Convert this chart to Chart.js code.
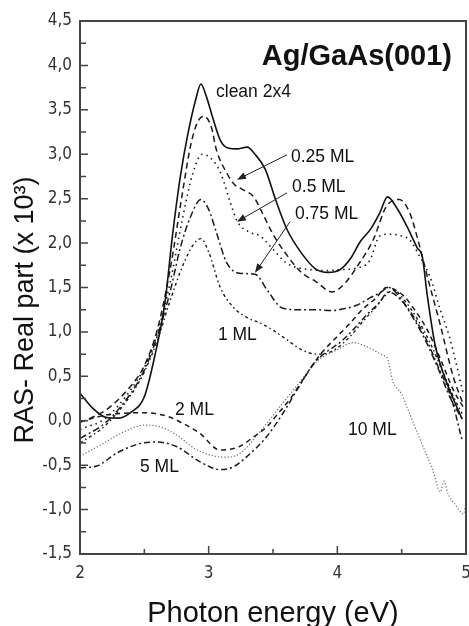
<!DOCTYPE html>
<html>
<head>
<meta charset="utf-8">
<script src="https://cdn.jsdelivr.net/npm/chart.js@4"></script>
<style>
  html, body { margin: 0; padding: 0; background: #fff; }
  #wrap { width: 469px; height: 626px; position: relative; }
</style>
</head>
<body>
<div id="wrap"><canvas id="rasChart"></canvas></div>
<script>
// Photon energy (eV) / RAS real part (x 10^3)

// clean 2x4
const eClean = [2.00, 2.10, 2.20, 2.30, 2.40, 2.50, 2.58, 2.66, 2.72, 2.78, 2.84, 2.90, 2.94, 2.98, 3.03, 3.09, 3.15, 3.22, 3.30, 3.36, 3.44, 3.52, 3.61, 3.72, 3.83, 3.93, 4.02, 4.10, 4.18, 4.26, 4.33, 4.39, 4.46, 4.54, 4.62, 4.66, 4.70, 4.76, 4.82, 4.90, 4.97];
const rClean = [0.31, 0.14, 0.04, 0.03, 0.10, 0.27, 0.72, 1.33, 2.10, 2.75, 3.24, 3.62, 3.79, 3.66, 3.42, 3.16, 3.07, 3.06, 3.08, 3.00, 2.83, 2.49, 2.15, 1.89, 1.71, 1.67, 1.70, 1.82, 2.02, 2.16, 2.34, 2.52, 2.40, 2.19, 1.95, 1.85, 1.40, 0.85, 0.55, 0.25, 0.02];

// 0.25 ML
const e025 = [2.00, 2.20, 2.40, 2.50, 2.60, 2.70, 2.80, 2.86, 2.91, 2.96, 3.02, 3.06, 3.14, 3.20, 3.27, 3.35, 3.42, 3.50, 3.60, 3.72, 3.83, 3.96, 4.06, 4.16, 4.28, 4.38, 4.48, 4.56, 4.62, 4.70, 4.80, 4.90, 4.98];
const r025 = [-0.02, 0.12, 0.40, 0.62, 1.02, 1.70, 2.60, 3.10, 3.35, 3.43, 3.31, 3.05, 2.79, 2.66, 2.60, 2.52, 2.33, 2.10, 1.88, 1.67, 1.57, 1.45, 1.55, 1.75, 2.04, 2.41, 2.49, 2.35, 2.07, 1.62, 1.08, 0.50, 0.18];

// 0.5 ML
const e05 = [2.00, 2.20, 2.40, 2.50, 2.60, 2.70, 2.80, 2.88, 2.95, 3.02, 3.09, 3.17, 3.22, 3.32, 3.40, 3.50, 3.60, 3.70, 3.80, 3.90, 4.02, 4.15, 4.25, 4.33, 4.40, 4.50, 4.56, 4.64, 4.72, 4.80, 4.87, 4.98];
const r05 = [-0.10, 0.03, 0.36, 0.60, 0.98, 1.55, 2.30, 2.80, 3.00, 2.95, 2.80, 2.45, 2.25, 2.12, 2.08, 1.93, 1.78, 1.72, 1.70, 1.69, 1.70, 1.72, 1.80, 2.08, 2.10, 2.08, 2.04, 1.85, 1.62, 1.25, 0.95, 0.30];

// 0.75 ML
const e075 = [2.00, 2.20, 2.40, 2.50, 2.60, 2.70, 2.78, 2.86, 2.94, 3.00, 3.06, 3.14, 3.24, 3.36, 3.46, 3.57, 3.70, 3.83, 3.95, 4.05, 4.15, 4.25, 4.33, 4.40, 4.48, 4.58, 4.68, 4.78, 4.88, 4.97];
const r075 = [-0.20, -0.02, 0.32, 0.57, 0.95, 1.45, 1.95, 2.30, 2.49, 2.38, 2.12, 1.78, 1.66, 1.65, 1.46, 1.27, 1.25, 1.25, 1.24, 1.26, 1.30, 1.38, 1.44, 1.50, 1.40, 1.18, 0.92, 0.60, 0.25, 0.02];

// 1 ML
const e1 = [2.00, 2.20, 2.40, 2.50, 2.60, 2.70, 2.80, 2.88, 2.94, 3.00, 3.09, 3.19, 3.30, 3.40, 3.50, 3.61, 3.72, 3.84, 3.92, 4.00, 4.10, 4.20, 4.30, 4.38, 4.44, 4.52, 4.62, 4.72, 4.82, 4.90, 4.97];
const r1 = [-0.25, -0.05, 0.30, 0.55, 0.90, 1.35, 1.75, 1.98, 2.05, 1.90, 1.50, 1.28, 1.16, 1.10, 1.02, 0.91, 0.80, 0.75, 0.76, 0.82, 0.95, 1.12, 1.28, 1.42, 1.47, 1.36, 1.15, 0.88, 0.55, 0.28, 0.08];

// 2 ML
const e2 = [2.00, 2.23, 2.49, 2.68, 2.80, 2.93, 3.09, 3.24, 3.35, 3.45, 3.55, 3.63, 3.75, 3.87, 4.00, 4.10, 4.20, 4.30, 4.38, 4.44, 4.52, 4.60, 4.70, 4.80, 4.90, 4.98];
const r2 = [-0.01, 0.07, 0.09, 0.05, -0.03, -0.14, -0.33, -0.29, -0.18, -0.07, 0.10, 0.24, 0.50, 0.75, 0.95, 1.10, 1.26, 1.38, 1.50, 1.48, 1.40, 1.25, 1.02, 0.70, 0.35, 0.15];

// 5 ML
const e5 = [2.00, 2.13, 2.29, 2.49, 2.60, 2.75, 2.93, 3.09, 3.19, 3.30, 3.45, 3.58, 3.70, 3.82, 3.92, 4.02, 4.12, 4.22, 4.32, 4.40, 4.48, 4.58, 4.68, 4.78, 4.88, 4.97];
const r5 = [-0.53, -0.51, -0.36, -0.25, -0.24, -0.29, -0.46, -0.55, -0.52, -0.40, -0.18, 0.09, 0.38, 0.65, 0.78, 0.88, 1.02, 1.18, 1.32, 1.45, 1.38, 1.20, 0.95, 0.62, 0.28, -0.22];

// 10 ML
const e10 = [2.00, 2.15, 2.35, 2.50, 2.60, 2.75, 2.90, 3.05, 3.15, 3.25, 3.40, 3.55, 3.70, 3.85, 4.00, 4.12, 4.25, 4.35, 4.39, 4.43, 4.50, 4.54, 4.64, 4.74, 4.80, 4.83, 4.86, 4.92, 4.98, 5.00];
const r10 = [-0.40, -0.28, -0.12, -0.05, -0.06, -0.16, -0.32, -0.40, -0.41, -0.36, -0.12, 0.15, 0.42, 0.68, 0.80, 0.88, 0.82, 0.74, 0.70, 0.45, 0.30, 0.16, -0.20, -0.55, -0.80, -0.68, -0.82, -0.95, -1.05, -0.92];

// axis ranges
const xMin = 2, xMax = 5, xStep = 1;
const yMin = -1.5, yMax = 4.5, yStep = 0.5;

// text labels in the plot (energy, value) and arrows
const notes = [
  { text: "clean 2x4", e: 3.057, v: 3.70 },
  { text: "0.25 ML", e: 3.640, v: 2.97 },
  { text: "0.5 ML", e: 3.648, v: 2.63 },
  { text: "0.75 ML", e: 3.671, v: 2.32 },
  { text: "1 ML", e: 3.072, v: 0.965 },
  { text: "2 ML", e: 2.738, v: 0.121 },
  { text: "5 ML", e: 2.466, v: -0.52 },
  { text: "10 ML", e: 4.083, v: -0.104 }
];
const arrows = [
  { from: [3.609, 2.994], to: [3.220, 2.713] },
  { from: [3.609, 2.566], to: [3.220, 2.240] },
  { from: [3.632, 2.240], to: [3.360, 1.666] }
];

function pts(es, rs) {
  return es.map((e, i) => ({ x: e, y: rs[i] }));
}

function series(label, es, rs, dash, color, width) {
  return {
    label: label,
    data: pts(es, rs),
    borderColor: color,
    borderWidth: width,
    borderDash: dash,
    pointRadius: 0,
    fill: false,
    tension: 0.35,
    cubicInterpolationMode: "monotone"
  };
}

const frameAndText = {
  id: "frameAndText",
  afterDatasetsDraw(chart) {
    const ctx = chart.ctx;
    const a = chart.chartArea;
    const x = chart.scales.x, y = chart.scales.y;
    ctx.save();

    // frame
    ctx.strokeStyle = "#444";
    ctx.lineWidth = 2;
    ctx.strokeRect(a.left, a.top, a.right - a.left, a.bottom - a.top);

    // inward ticks, major + minor
    ctx.lineWidth = 1.5;
    ctx.beginPath();
    const yt = y.ticks.map(t => t.value);
    yt.forEach((v, i) => {
      const py = y.getPixelForValue(v);
      ctx.moveTo(a.left, py); ctx.lineTo(a.left + 8, py);
      if (i < yt.length - 1) {
        const pm = y.getPixelForValue((v + yt[i + 1]) / 2);
        ctx.moveTo(a.left, pm); ctx.lineTo(a.left + 6, pm);
      }
    });
    const xt = x.ticks.map(t => t.value);
    xt.forEach((v, i) => {
      const px = x.getPixelForValue(v);
      ctx.moveTo(px, a.bottom); ctx.lineTo(px, a.bottom - 8);
      if (i < xt.length - 1) {
        const pm = x.getPixelForValue((v + xt[i + 1]) / 2);
        ctx.moveTo(pm, a.bottom); ctx.lineTo(pm, a.bottom - 5);
      }
    });
    ctx.stroke();

    // title inside plot
    ctx.fillStyle = "#111";
    ctx.font = "bold 29px 'Liberation Sans', Arial, sans-serif";
    ctx.textAlign = "right";
    ctx.textBaseline = "alphabetic";
    ctx.fillText("Ag/GaAs(001)", x.getPixelForValue(4.891), y.getPixelForValue(4.005));

    // coverage labels
    ctx.font = "17.5px 'Liberation Sans', Arial, sans-serif";
    ctx.textAlign = "left";
    ctx.textBaseline = "middle";
    notes.forEach(n => {
      ctx.fillText(n.text, x.getPixelForValue(n.e), y.getPixelForValue(n.v));
    });

    // arrows
    ctx.strokeStyle = "#222";
    ctx.fillStyle = "#222";
    ctx.lineWidth = 1;
    arrows.forEach(ar => {
      const x0 = x.getPixelForValue(ar.from[0]), y0 = y.getPixelForValue(ar.from[1]);
      const x1 = x.getPixelForValue(ar.to[0]), y1 = y.getPixelForValue(ar.to[1]);
      const ang = Math.atan2(y1 - y0, x1 - x0);
      ctx.beginPath();
      ctx.moveTo(x0, y0);
      ctx.lineTo(x1 - 6 * Math.cos(ang), y1 - 6 * Math.sin(ang));
      ctx.stroke();
      ctx.beginPath();
      ctx.moveTo(x1, y1);
      ctx.lineTo(x1 - 9 * Math.cos(ang) + 3.5 * Math.sin(ang), y1 - 9 * Math.sin(ang) - 3.5 * Math.cos(ang));
      ctx.lineTo(x1 - 9 * Math.cos(ang) - 3.5 * Math.sin(ang), y1 - 9 * Math.sin(ang) + 3.5 * Math.cos(ang));
      ctx.closePath();
      ctx.fill();
    });

    // axis titles
    ctx.fillStyle = "#111";
    ctx.font = "29px 'Liberation Sans', Arial, sans-serif";
    ctx.textAlign = "center";
    ctx.textBaseline = "alphabetic";
    ctx.fillText("Photon energy (eV)", (a.left + a.right) / 2, chart.height - 4);

    ctx.font = "27px 'Liberation Sans', Arial, sans-serif";
    ctx.translate(33, 310);
    ctx.rotate(-Math.PI / 2);
    ctx.fillText("RAS- Real part (x 10³)", 0, 0);

    ctx.restore();
  }
};

const tickFont = { family: "'Liberation Sans Narrow', 'DejaVu Sans Condensed', sans-serif", size: 17 };

new Chart(document.getElementById("rasChart"), {
  type: "scatter",
  data: {
    datasets: [
      series("clean 2x4", eClean, rClean, [], "#111", 1.6),
      series("0.25 ML", e025, r025, [6, 4], "#1a1a1a", 1.5),
      series("0.5 ML", e05, r05, [1.5, 4], "#1a1a1a", 1.6),
      series("0.75 ML", e075, r075, [7, 3, 2, 3], "#1a1a1a", 1.5),
      series("1 ML", e1, r1, [3, 3, 1.5, 3], "#1a1a1a", 1.4),
      series("2 ML", e2, r2, [5, 4], "#1a1a1a", 1.5),
      series("5 ML", e5, r5, [6, 3, 2, 3], "#1a1a1a", 1.5),
      series("10 ML", e10, r10, [1.2, 2], "#666", 1.2)
    ].map(d => Object.assign(d, { showLine: true }))
  },
  options: {
    responsive: true,
    maintainAspectRatio: false,
    animation: false,
    devicePixelRatio: 1,
    layout: { padding: { left: 0, right: 3, top: 21, bottom: 0 } },
    plugins: { legend: { display: false }, tooltip: { enabled: false } },
    scales: {
      x: {
        type: "linear",
        min: xMin, max: xMax,
        grid: { display: false, drawTicks: false },
        border: { display: false },
        ticks: { stepSize: xStep, padding: 9, color: "#333", font: tickFont,
          callback: v => String(v) },
        afterFit: s => { s.height = 72; s.paddingLeft = 0; s.paddingRight = 0; }
      },
      y: {
        min: yMin, max: yMax,
        grid: { display: false, drawTicks: false },
        border: { display: false },
        ticks: { stepSize: yStep, padding: 8, color: "#333", font: tickFont,
          callback: v => v.toFixed(1).replace(".", ",") },
        afterFit: s => { s.width = 80; s.paddingTop = 0; s.paddingBottom = 0; }
      }
    }
  },
  plugins: [frameAndText]
});
</script>
</body>
</html>
